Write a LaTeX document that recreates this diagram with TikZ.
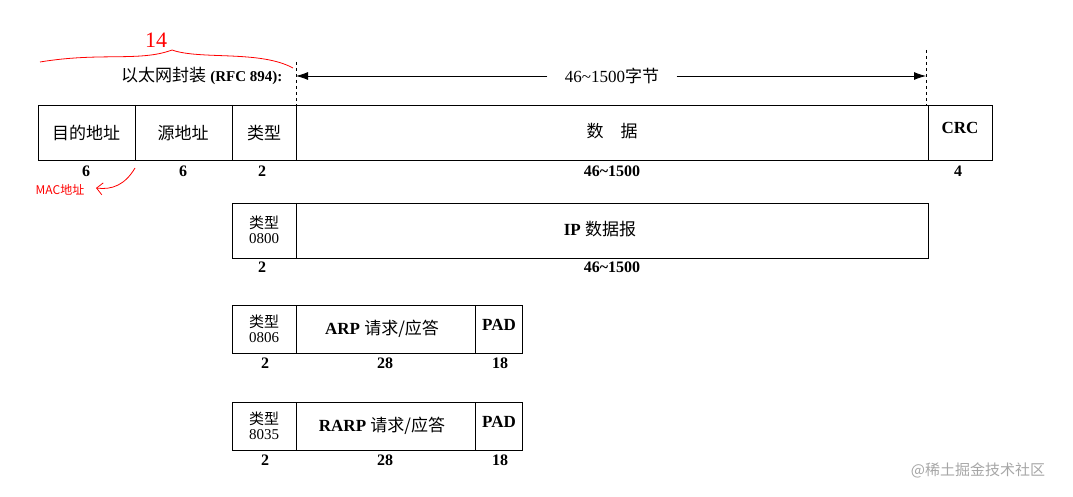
\documentclass[tikz,border=0pt]{standalone}
\usepackage{fontspec}
\setmainfont{Liberation Serif}
\newfontfamily\cjk{Noto Sans CJK SC}
\usetikzlibrary{arrows.meta}
\usetikzlibrary{positioning}

\begin{document}
\begin{tikzpicture}[x=1pt,y=-1pt,font=\fontsize{17}{19}\selectfont,
                    field/.style={draw,thick,inner sep=0pt},
                    size/.style={font=\bfseries\fontsize{16}{18}\selectfont},
                    note/.style={red,thick}]

    \useasboundingbox (0,0) rectangle (1073,497);

    % header
    \node[anchor=east] (encap) at (286,76) {{\cjk 以太网封装} \textbf{\fontsize{15}{17}\selectfont(RFC 894):}};
    \coordinate (dl) at (296,76);
    \coordinate (dr) at (926,76);
    \draw[thick,dashed] (296,62) -- (296,105);
    \draw[thick,dashed] (926,50) -- (926,105);
    \node (len) at (612,76) {46\textasciitilde1500{\cjk 字节}};
    \draw[thick,-{Latex[length=12pt,width=8pt]}] (len.west) ++(-14,0) -- (dl);
    \draw[thick,-{Latex[length=12pt,width=8pt]}] (len.east) ++(14,0) -- (dr);

    % Ethernet frame
    \draw[field] (38,105) rectangle (992,160);
    \foreach \x in {135,232,296,928} \draw[thick] (\x,105) -- (\x,160);
    \node (dst) at (86,133) {\cjk 目的地址};
    \node (src) at (183,133) {\cjk 源地址};
    \node (typ) at (264,133) {\cjk 类型};
    \node (dat) at (612,131) {\cjk 数\quad 据};
    \node (crc) at (960,128) {\textbf{CRC}};
    \foreach \x/\t in {86/6,183/6,262/2,612/46\textasciitilde1500,958/4}
        \node[size] at (\x,171) {\t};

    % IP datagram
    \draw[field] (232,203) rectangle (928,258);
    \draw[thick] (296,203) -- (296,258);
    \node[align=center,inner sep=0pt,font=\fontsize{15}{15}\selectfont] (ipt) at (264,230) {{\cjk 类型}\\0800};
    \node (ip) at (600,229) {\textbf{IP} {\cjk 数据报}};
    \foreach \x/\t in {262/2,612/46\textasciitilde1500}
        \node[size] at (\x,267) {\t};

    % ARP / RARP
    \foreach \y/\c/\t in {305/0806/ARP,402/8035/RARP}{
        \draw[field] (232,\y) rectangle (522,\y+48);
        \draw[thick] (296,\y) -- (296,\y+48);
        \draw[thick] (475,\y) -- (475,\y+48);
        \node[align=center,inner sep=0pt,font=\fontsize{15}{15}\selectfont] at (264,\y+24) {{\cjk 类型}\\\c};
        \node at (382,\y+24) {\textbf{\t} {\cjk 请求/应答}};
        \node at (499,\y+20) {\textbf{PAD}};
        \node[size] at (265,\y+58) {2};
        \node[size] at (385,\y+58) {28};
        \node[size] at (500,\y+58) {18};
    }

    % red notes
    \draw[note] (40,62) .. controls (100,52) and (140,62) .. (172,50)
                .. controls (200,60) and (260,50) .. (293,68);
    \node[red,font=\fontsize{22}{22}\selectfont] (fourteen) at (156,40) {14};
    \node[red,font=\cjk\fontsize{12}{12}\selectfont] (mac) at (60,190) {MAC地址};
    \coordinate (macend) at (96,188);
    \draw[note,-{Straight Barb[length=6pt]}] (135,168) .. controls (125,185) and (112,190) .. (macend);

    \node[gray!70,font=\cjk\fontsize{15}{15}\selectfont] (wm) at (978,470) {@稀土掘金技术社区};
\end{tikzpicture}
\end{document}
